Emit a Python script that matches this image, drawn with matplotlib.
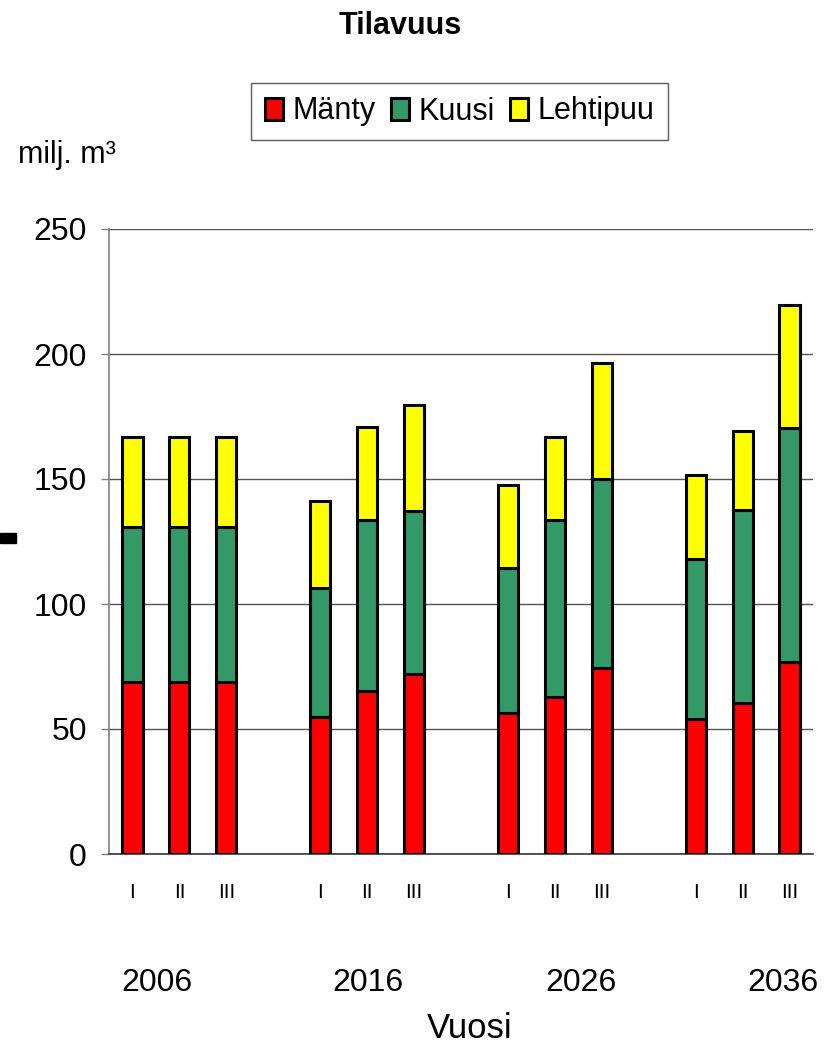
import matplotlib
matplotlib.use("Agg")
import matplotlib.pyplot as plt
from matplotlib.patches import Rectangle
import numpy as np

plt.rcParams['font.family'] = ['Liberation Sans Narrow', 'Liberation Sans', 'DejaVu Sans']

# ---- data ----
years = ['2006', '2016', '2026', '2036']
scenarios = ['I', 'II', 'III']
manty    = [69.0, 69.0, 69.0, 55.0, 65.3, 72.0, 56.5, 63.0, 74.5, 54.0, 60.3, 77.0]
kuusi    = [62.0, 62.0, 62.0, 51.5, 68.2, 65.2, 57.8, 70.6, 75.7, 64.0, 77.2, 93.5]
lehtipuu = [35.8, 35.8, 35.8, 34.8, 37.2, 42.6, 33.3, 33.2, 46.3, 33.6, 31.9, 49.1]
series_names = ['Mänty', 'Kuusi', 'Lehtipuu']
colors = ['#FF0000', '#339966', '#FFFF00']

# ---- layout ----
W, H = 829, 1047
fig = plt.figure(figsize=(W / 100, H / 100), dpi=100)
ax = fig.add_axes([109 / W, 1 - 854 / H, (813 - 109) / W, (854 - 229) / H])

# positions: 3 bars per group, one empty slot between groups
pos = []
for g in range(len(years)):
    for s in range(len(scenarios)):
        pos.append(g * 4 + s)
pos = np.array(pos)

bottom = np.zeros(len(pos))
handles = []
for vals, name, col in zip([manty, kuusi, lehtipuu], series_names, colors):
    b = ax.bar(pos, vals, width=0.43, bottom=bottom, color=col,
               edgecolor='black', linewidth=2.2, label=name, zorder=3)
    handles.append(b)
    bottom = bottom + np.array(vals)

ax.set_xlim(-0.5, 14.5)
ax.set_ylim(0, 250)
ax.set_yticks([0, 50, 100, 150, 200, 250])
ax.yaxis.grid(True, color='#555555', linewidth=1.0, zorder=0)
ax.set_axisbelow(True)

for sp in ['top', 'right']:
    ax.spines[sp].set_visible(False)
ax.spines['left'].set_color('#808080')
ax.spines['left'].set_linewidth(1.2)
ax.spines['bottom'].set_color('#333333')
ax.spines['bottom'].set_linewidth(1.2)

ax.tick_params(axis='y', length=6, width=1.0, color='#808080', pad=10,
               labelsize=23)
ax.set_xticks(pos)
ax.set_xticklabels(scenarios * len(years))
ax.tick_params(axis='x', length=0, pad=21, labelsize=15)

# year labels below the scenario labels
year_label_x = [0.52, 5.02, 9.56, 13.86]
for xv, yr in zip(year_label_x, years):
    ax.text(xv, -0.2064, yr, transform=ax.get_xaxis_transform(),
            ha='center', va='center', fontsize=23)

fig.text(470 / W, 1 - 1028 / H, 'Vuosi', ha='center', va='center', fontsize=25)
fig.text(18 / W, 1 - 155 / H, 'milj. m³', ha='left', va='center', fontsize=22)
fig.text(400 / W, 1 - 26 / H, 'Tilavuus', ha='center', va='center',
         fontsize=22, fontweight='bold')

leg = fig.legend(handles=handles, labels=series_names, ncol=3,
                 loc='center', bbox_to_anchor=(459.5 / W, 1 - 111.5 / H),
                 fontsize=22, frameon=True, fancybox=False,
                 handlelength=0.6, handleheight=0.75, handletextpad=0.3,
                 columnspacing=0.5, borderpad=0.45, borderaxespad=0)
leg.get_frame().set_edgecolor('#333333')
leg.get_frame().set_linewidth(1.0)

# small black mark at left edge
fig.patches.append(Rectangle((0, 1 - 543 / H), 16 / W, 10 / H,
                             transform=fig.transFigure, color='black'))

fig.savefig('out.png', dpi=100)
